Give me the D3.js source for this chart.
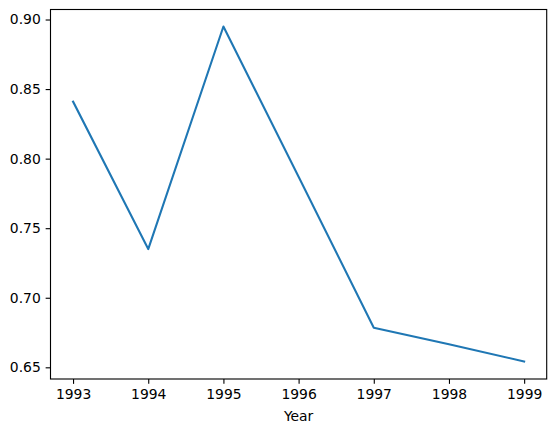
<!DOCTYPE html>
<html>
<head>
<meta charset="utf-8">
<script src="https://cdn.jsdelivr.net/npm/d3@7"></script>
<style>
  html, body { margin: 0; padding: 0; background: #fff; }
  svg { display: block; }
  text { font-family: "DejaVu Sans", sans-serif; fill: #000; }
</style>
</head>
<body>
<svg id="chart" width="556" height="432"></svg>
<script>
const years = [1993, 1994, 1995, 1996, 1997, 1998, 1999];
const values = [0.841, 0.735, 0.895, 0.787, 0.6785, 0.6665, 0.6542];
const xTicks = [1993, 1994, 1995, 1996, 1997, 1998, 1999];
const yTicks = [0.65, 0.70, 0.75, 0.80, 0.85, 0.90];
const xLabel = "Year";

const plotL = 50.5, plotR = 546.7, plotT = 9.5, plotB = 379;

const x = d3.scaleLinear().domain([1992.7, 1999.3]).range([plotL, plotR]);
const y = d3.scaleLinear().domain([0.6416, 0.9072]).range([plotB, plotT]);

const svg = d3.select("#chart");

// line
const line = d3.line().x((d, i) => x(years[i])).y(d => y(d));
svg.append("path")
  .datum(values)
  .attr("d", line)
  .attr("fill", "none")
  .attr("stroke", "#1f77b4")
  .attr("stroke-width", 2.08)
  .attr("stroke-linejoin", "round")
  .attr("stroke-linecap", "square");

// axes
const fs = "13.9px";
const xAxis = d3.axisBottom(x).tickValues(xTicks).tickFormat(d3.format("d"))
  .tickSize(4.86).tickPadding(4.86);
const gx = svg.append("g").attr("transform", `translate(0,${plotB})`).call(xAxis);
gx.select(".domain").remove();
gx.selectAll(".tick line").attr("stroke", "#000").attr("stroke-width", 1.11);
gx.selectAll(".tick text").attr("font-size", fs).attr("font-family", "DejaVu Sans").attr("fill", "#000");

const yAxis = d3.axisLeft(y).tickValues(yTicks).tickFormat(d3.format(".2f"))
  .tickSize(4.86).tickPadding(4.86);
const gy = svg.append("g").attr("transform", `translate(${plotL},0)`).call(yAxis);
gy.select(".domain").remove();
gy.selectAll(".tick line").attr("stroke", "#000").attr("stroke-width", 1.11);
gy.selectAll(".tick text").attr("font-size", fs).attr("font-family", "DejaVu Sans").attr("fill", "#000");

// frame
svg.append("rect")
  .attr("x", plotL).attr("y", plotT)
  .attr("width", plotR - plotL).attr("height", plotB - plotT)
  .attr("fill", "none").attr("stroke", "#000").attr("stroke-width", 1.11);

// x label
svg.append("text")
  .attr("x", (plotL + plotR) / 2).attr("y", 420.5)
  .attr("text-anchor", "middle")
  .attr("font-size", fs)
  .text(xLabel);
</script>
</body>
</html>
